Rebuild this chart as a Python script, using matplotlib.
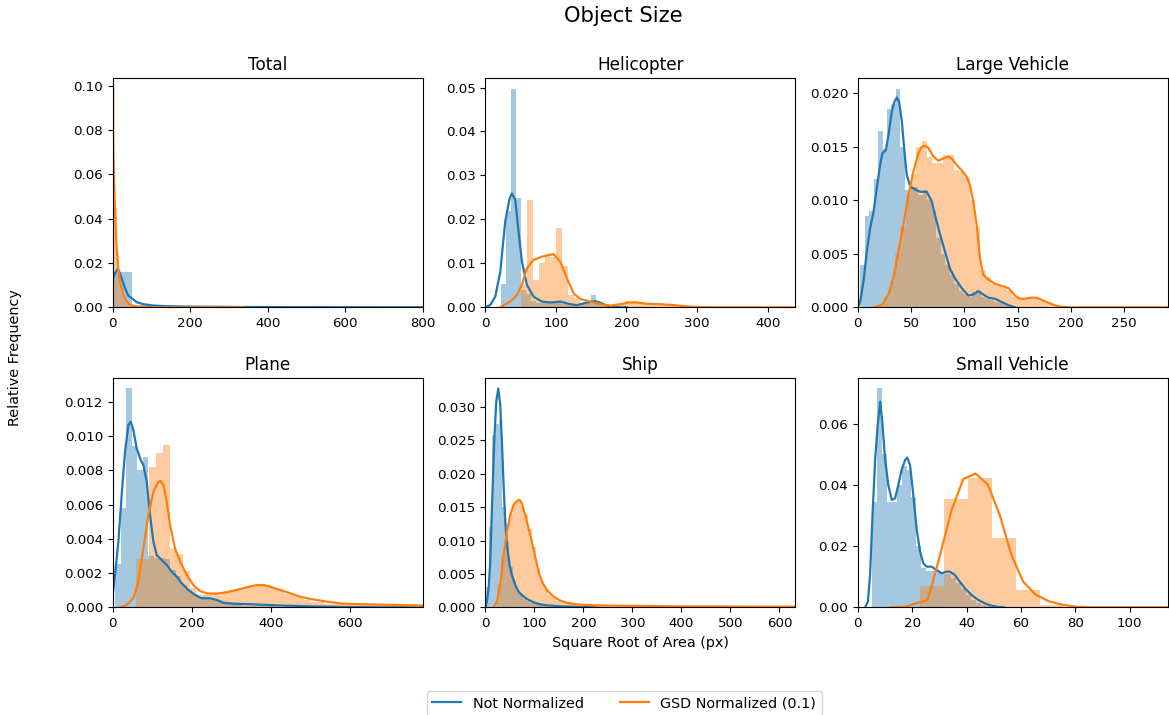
import numpy as np
import matplotlib.pyplot as plt

BLUE = '#1f77b4'
ORANGE = '#ff7f0e'

titles = ["Total", "Helicopter", "Large Vehicle", "Plane", "Ship", "Small Vehicle"]
series_labels = ["Not Normalized", "GSD Normalized (0.1)"]

# histograms: (first bin edge, bin width) and bar heights (density)
# kde: x and y of the smoothed curve
# --- Total
total_raw_bins = (0.5, 48.5)
total_raw_hist = [0.0161, 0.0012, 0.0004, 0.0002, 0.0001, 0.0001, 0.00006, 0.00004,
                  0.00003, 0.00002, 0.00002, 0.00001, 0.00001, 0.00001, 0.00001, 0.00001]
total_raw_kde_x = [0, 6, 12, 17, 23, 32, 40, 49, 62, 79, 105, 140, 208, 338, 510, 800]
total_raw_kde_y = [0.0123, 0.0153, 0.0171, 0.0161, 0.0131, 0.0086, 0.0053, 0.0041, 0.0023,
                   0.0014, 0.0008, 0.0005, 0.0003, 0.00015, 0.00005, 0.0]
total_gsd_bins = (0.0, 5.2)
total_gsd_hist = [0.0988, 0.045, 0.024, 0.012, 0.0065, 0.004, 0.0025, 0.0016, 0.0011, 0.0008,
                  0.0006, 0.0005, 0.0004, 0.0003, 0.0003, 0.0002, 0.0002, 0.0002, 0.0001, 0.0001]
total_gsd_kde_x = [0, 2.6, 5.2, 7.8, 10.3, 14.6, 19, 27.6, 36.2, 44.8, 62, 96.5, 338]
total_gsd_kde_y = [0.0755, 0.0627, 0.0477, 0.0356, 0.0266, 0.0176, 0.0116, 0.0056, 0.0026,
                   0.0011, 0.0003, 0.0, 0.0]

# --- Helicopter
heli_raw_bins = (22.2, 7.1)
heli_raw_hist = [0.0052, 0.022, 0.0497, 0.0248, 0.004, 0.003, 0.0015, 0.0010, 0.0010, 0.0010,
                 0.0010, 0.0013, 0.0008, 0.0005, 0.0005, 0.0008, 0.0010, 0.0013, 0.0027, 0.0008,
                 0.0003]
heli_raw_kde_x = [0, 7.1, 14.2, 21.3, 28.3, 34.5, 37.8, 42.5, 47.2, 51.9, 59, 68.5, 80.3, 92.1,
                  106.3, 120.4, 129.9, 144, 155.8, 165.3, 174.7, 191, 200]
heli_raw_kde_y = [0, 0.00053, 0.00243, 0.00812, 0.0195, 0.0248, 0.0259, 0.0244, 0.0172, 0.0104,
                  0.0051, 0.0024, 0.0013, 0.0011, 0.0013, 0.0007, 0.0005, 0.0011, 0.0014, 0.0009,
                  0.00015, 0, 0]
heli_gsd_bins = (51.0, 8.26)
heli_gsd_hist = [0.0051, 0.0244, 0.0062, 0.0100, 0.0119, 0.0115, 0.0180, 0.0093, 0.0028, 0.0020,
                 0.0009, 0.0009, 0.0007, 0.0005, 0.0005, 0.0005, 0.0005, 0.0009, 0.0014, 0.0014,
                 0.0010, 0.0007, 0.0007, 0.0007, 0.0007, 0.0006, 0.0004, 0.0003, 0.0002, 0.0002]
heli_gsd_kde_x = [21.3, 35.4, 44.9, 51.9, 59, 68.5, 80.3, 89.7, 96.8, 106.3, 115.7, 125.1, 134.6,
                  148.8, 163, 177.1, 191.3, 203.1, 214.9, 229, 247.9, 266.8, 285.7, 314, 440]
heli_gsd_kde_y = [0, 0.0013, 0.0028, 0.0051, 0.0089, 0.0108, 0.0115, 0.0119, 0.0121, 0.0104,
                  0.0066, 0.0032, 0.0019, 0.0013, 0.0007, 0.0004, 0.0007, 0.0011, 0.0011, 0.0008,
                  0.0007, 0.0005, 0.0002, 0, 0]

# --- Large Vehicle
lv_raw_bins = (2.2, 4.2)
lv_raw_hist = [0.0040, 0.0085, 0.0090, 0.0120, 0.0165, 0.0148, 0.0185, 0.0190, 0.0204, 0.0150,
               0.0110, 0.0112, 0.0112, 0.0105, 0.0110, 0.0100, 0.0090, 0.0065, 0.0050, 0.0040,
               0.0030, 0.0022, 0.0015, 0.0012, 0.0010, 0.0014, 0.0016, 0.0010, 0.0008, 0.0007,
               0.0005, 0.0004, 0.0002, 0.0001]
lv_raw_kde_x = [0, 2.2, 5.3, 8.4, 11.6, 14.7, 17.8, 20.9, 23.1, 26.3, 28.8, 31.9, 34.4, 36.6,
                38.8, 41.3, 43.8, 45.9, 49.1, 53.8, 58.4, 64.7, 69.4, 72.5, 77.2, 81.9, 86.6,
                91.3, 97.5, 103.8, 108.4, 113.1, 117.8, 122.5, 128.8, 135, 141.3, 147.5]
lv_raw_kde_y = [0, 0.00053, 0.0024, 0.0052, 0.0074, 0.0089, 0.0111, 0.0133, 0.0144, 0.0147,
                0.0161, 0.0183, 0.0192, 0.0196, 0.0192, 0.0174, 0.0145, 0.0124, 0.0113, 0.0110,
                0.0108, 0.0108, 0.0099, 0.0086, 0.0068, 0.0052, 0.0036, 0.0027, 0.0018, 0.0011,
                0.0012, 0.0015, 0.0012, 0.0009, 0.0008, 0.0005, 0.0002, 0]
lv_gsd_bins = (20.0, 5.0)
lv_gsd_hist = [0.0003, 0.0010, 0.0025, 0.0050, 0.0075, 0.0105, 0.0125, 0.0150, 0.0155, 0.0140,
               0.0135, 0.0135, 0.0142, 0.0142, 0.0128, 0.0126, 0.0122, 0.0100, 0.0075, 0.0035,
               0.0028, 0.0022, 0.0020, 0.0018, 0.0015, 0.0010, 0.0008, 0.0008, 0.0009, 0.0008,
               0.0006, 0.0004, 0.0002]
lv_gsd_kde_x = [14.7, 22.5, 28.8, 33.4, 38.1, 42.8, 47.5, 52.2, 56.9, 60, 63.1, 66.3, 70.9,
                75.6, 80.3, 85, 88.1, 92.8, 97.5, 102.2, 105.3, 108.4, 111.6, 114.7, 117.8,
                122.5, 128.8, 135, 141.3, 144.4, 147.5, 152.2, 156.9, 163.1, 167.8, 172.5,
                177.2, 181.9, 188.1, 197.5, 291]
lv_gsd_kde_y = [0, 0.0002, 0.0012, 0.0027, 0.0052, 0.0077, 0.0105, 0.0127, 0.0144, 0.0150,
                0.0151, 0.0149, 0.0141, 0.0137, 0.0139, 0.0141, 0.0139, 0.0133, 0.0128, 0.0122,
                0.0114, 0.0099, 0.0077, 0.0046, 0.0030, 0.0026, 0.0022, 0.0020, 0.0018, 0.0015,
                0.0011, 0.0008, 0.0008, 0.0009, 0.0009, 0.0007, 0.0005, 0.0003, 0.0001, 0, 0]

# --- Plane
plane_raw_bins = (5.9, 14.0)
plane_raw_hist = [0.0025, 0.0058, 0.0128, 0.0094, 0.0080, 0.0088, 0.0030, 0.0029, 0.0029,
                  0.0028, 0.0022, 0.0018, 0.0013, 0.0010, 0.0008, 0.0006, 0.0005, 0.0005,
                  0.0004, 0.0003, 0.0002, 0.0002, 0.00015, 0.0001, 0.0001, 0.0001, 0.00008,
                  0.00006, 0.00005, 0.00004, 0.00003, 0.00002, 0.00002, 0.00001, 0.00001]
plane_raw_kde_x = [0, 5.9, 14.4, 22.8, 31.3, 39.7, 45.6, 52.4, 60.8, 71, 77.7, 86.2, 94.6,
                   103.1, 111.5, 124.2, 136.9, 149.6, 162.2, 174.9, 191.8, 208.7, 225.6, 246.7,
                   263.6, 280.5, 305.9, 348.1, 390.4, 432.6, 500.2, 584.7, 669.2, 785]
plane_raw_kde_y = [0.00072, 0.00189, 0.00383, 0.00656, 0.00909, 0.01064, 0.01084, 0.01035,
                   0.00928, 0.0086, 0.00831, 0.00733, 0.00539, 0.00383, 0.00305, 0.00276,
                   0.00247, 0.00208, 0.00179, 0.0014, 0.00101, 0.00072, 0.00053, 0.00053,
                   0.00043, 0.00027, 0.00021, 0.00018, 0.00014, 0.0001, 0.00006, 0.00002, 0, 0]
plane_gsd_bins = (59.0, 17.0)
plane_gsd_hist = [0.0028, 0.0028, 0.0082, 0.0090, 0.0095, 0.0034, 0.0031, 0.0021, 0.0011,
                  0.0007, 0.0007, 0.0008, 0.0008, 0.0009, 0.0010, 0.0011, 0.0012, 0.0013,
                  0.0013, 0.0013, 0.0011, 0.0010, 0.0008, 0.0007, 0.0006, 0.0004, 0.0003,
                  0.0003, 0.0002, 0.0002, 0.00018, 0.00016, 0.00015, 0.00014, 0.00012,
                  0.00012, 0.0001, 0.0001, 0.0001, 0.0001, 0.0001, 0.0001, 0.0001]
plane_gsd_kde_x = [18.6, 35.5, 52.4, 65.1, 77.7, 90.4, 103.1, 115.8, 121.7, 128.4, 136.9, 145.3,
                   158, 170.7, 187.6, 204.5, 221.4, 238.3, 263.6, 289, 314.3, 339.7, 365, 382,
                   398.8, 424.2, 449.5, 474.9, 500.2, 542.5, 584.7, 627, 669.2, 711.5, 753.7,
                   785]
plane_gsd_kde_y = [0, 0.00014, 0.00053, 0.0015, 0.00344, 0.00539, 0.00675, 0.00733, 0.00737,
                   0.00714, 0.00617, 0.00481, 0.00344, 0.00267, 0.00189, 0.0013, 0.00095,
                   0.00082, 0.0008, 0.00088, 0.00101, 0.00117, 0.0013, 0.0013, 0.00121,
                   0.00101, 0.00082, 0.00062, 0.00049, 0.00033, 0.00021, 0.00018, 0.00016,
                   0.00014, 0.00012, 0.0001]

# --- Ship
ship_raw_bins = (0.0, 7.0)
ship_raw_hist = [0.0030, 0.0120, 0.0258, 0.0275, 0.0280, 0.0150, 0.0100, 0.0060, 0.0040,
                 0.0025, 0.0018, 0.0013, 0.0010, 0.0007, 0.0005, 0.0004, 0.0003, 0.0002,
                 0.0002, 0.0001, 0.0001, 0.0001, 0.00005]
ship_raw_kde_x = [0, 3.4, 6.8, 10.2, 13.6, 18.3, 22.4, 26.5, 30.6, 34, 37.4, 40.8, 44.2, 49.6,
                  54.3, 61.1, 67.9, 74.7, 84.9, 98.5, 112.1, 125.7, 152.9, 193.6, 227.6]
ship_raw_kde_y = [0, 0.00085, 0.00284, 0.00684, 0.01482, 0.0248, 0.03079, 0.03278, 0.03029,
                  0.0248, 0.01831, 0.01282, 0.00933, 0.00634, 0.00484, 0.00334, 0.00235,
                  0.00185, 0.00125, 0.00075, 0.00045, 0.0003, 0.00015, 0.00005, 0]
ship_gsd_bins = (24.0, 8.0)
ship_gsd_hist = [0.0035, 0.0075, 0.0125, 0.0140, 0.0158, 0.0162, 0.0150, 0.0140, 0.0118,
                 0.0090, 0.0060, 0.0040, 0.0028, 0.0019, 0.0014, 0.0010, 0.0008, 0.0006,
                 0.0005, 0.0004, 0.0003, 0.0003, 0.0003, 0.0002, 0.0002, 0.0002, 0.0002,
                 0.0002, 0.0002, 0.0002, 0.00015, 0.00015, 0.00015, 0.00015, 0.00015, 0.00015,
                 0.00015, 0.00015, 0.0001, 0.0001, 0.0001, 0.0001, 0.0001, 0.0001, 0.0001,
                 0.0001, 0.0001, 0.0001, 0.0001, 0.0001, 0.0001, 0.0001, 0.0001, 0.0001,
                 0.0001, 0.0001, 0.0001, 0.0001, 0.0001, 0.0001, 0.0001, 0.0001, 0.0001,
                 0.0001, 0.0001, 0.0001, 0.0001, 0.0001, 0.0001, 0.0001, 0.0001, 0.0001,
                 0.0001, 0.0001, 0.0001]
ship_gsd_kde_x = [17, 23.8, 30.6, 37.4, 44.2, 51, 57.7, 64.5, 70, 74.7, 81.5, 88.3, 95.1, 101.9,
                  108.7, 115.5, 125.7, 139.3, 152.9, 166.4, 180, 193.6, 220.8, 261.5, 329.5,
                  397.4, 465.4, 533.3, 632]
ship_gsd_kde_y = [0, 0.00085, 0.00334, 0.00783, 0.01133, 0.01382, 0.01532, 0.01592, 0.01607,
                  0.01557, 0.01382, 0.01183, 0.00983, 0.00758, 0.00534, 0.00384, 0.00259,
                  0.0016, 0.001, 0.0007, 0.0005, 0.0004, 0.0003, 0.00025, 0.0002, 0.00015,
                  0.00015, 0.0001, 0.0001]

# --- Small Vehicle
sv_raw_bins = (5.1, 1.83)
sv_raw_hist = [0.0345, 0.0715, 0.0500, 0.0345, 0.0345, 0.0400, 0.0460, 0.0450, 0.0360, 0.0200,
               0.0130, 0.0120, 0.0120, 0.0120, 0.0110, 0.0110, 0.0095, 0.0080, 0.0060, 0.0040,
               0.0025, 0.0015, 0.0008, 0.0004]
sv_raw_kde_x = [2.7, 3.7, 4.5, 5.4, 6.4, 7.3, 8.2, 9.0, 10.0, 11.2, 12.5, 13.7, 14.9, 16.1,
                17.4, 18.2, 19.2, 20.4, 21.6, 22.9, 24.1, 25.3, 27.1, 29.0, 30.8, 32.6, 33.9,
                35.7, 37.5, 39.4, 41.8, 44.3, 46.7, 49.1, 51.6, 54.0]
sv_raw_kde_y = [0, 0.00185, 0.01056, 0.03016, 0.04867, 0.05955, 0.06718, 0.06064, 0.04867,
                0.03996, 0.03506, 0.0356, 0.03996, 0.04486, 0.04812, 0.04888, 0.04649, 0.03669,
                0.0258, 0.01818, 0.01437, 0.01328, 0.01328, 0.01219, 0.0111, 0.01165, 0.01165,
                0.01056, 0.00838, 0.00621, 0.00403, 0.0024, 0.00131, 0.00054, 0.00011, 0]
sv_gsd_bins = (22.9, 8.8)
sv_gsd_hist = [0.0071, 0.0354, 0.0424, 0.0225, 0.0057, 0.0008]
sv_gsd_kde_x = [11.9, 17.4, 21.6, 25.7, 29.6, 34.5, 38.8, 43.3, 47.9, 52.2, 56.5, 60.8, 65.6,
                70.5, 75.4, 80.3, 84.6, 114]
sv_gsd_kde_y = [0, 0.0002, 0.0013, 0.0024, 0.0149, 0.0318, 0.0419, 0.0437, 0.04, 0.0302,
                0.0171, 0.0084, 0.004, 0.0019, 0.0008, 0.0002, 0, 0]

panels = [
    (total_raw_bins, total_raw_hist, total_raw_kde_x, total_raw_kde_y,
     total_gsd_bins, total_gsd_hist, total_gsd_kde_x, total_gsd_kde_y),
    (heli_raw_bins, heli_raw_hist, heli_raw_kde_x, heli_raw_kde_y,
     heli_gsd_bins, heli_gsd_hist, heli_gsd_kde_x, heli_gsd_kde_y),
    (lv_raw_bins, lv_raw_hist, lv_raw_kde_x, lv_raw_kde_y,
     lv_gsd_bins, lv_gsd_hist, lv_gsd_kde_x, lv_gsd_kde_y),
    (plane_raw_bins, plane_raw_hist, plane_raw_kde_x, plane_raw_kde_y,
     plane_gsd_bins, plane_gsd_hist, plane_gsd_kde_x, plane_gsd_kde_y),
    (ship_raw_bins, ship_raw_hist, ship_raw_kde_x, ship_raw_kde_y,
     ship_gsd_bins, ship_gsd_hist, ship_gsd_kde_x, ship_gsd_kde_y),
    (sv_raw_bins, sv_raw_hist, sv_raw_kde_x, sv_raw_kde_y,
     sv_gsd_bins, sv_gsd_hist, sv_gsd_kde_x, sv_gsd_kde_y),
]

x_limits = [800, 439, 291, 785, 632, 114]
y_limits = [0.1033, 0.0521, 0.0214, 0.01337, 0.0343, 0.0748]
x_steps = [200, 100, 50, 200, 100, 20]
y_steps = [0.02, 0.01, 0.005, 0.002, 0.005, 0.02]


def draw_dist(ax, bins, heights, kde_x, kde_y, color, label):
    start, width = bins
    edges = start + width * np.arange(len(heights))
    ax.bar(edges, heights, width=width, align='edge', color=color, alpha=0.4, linewidth=0)
    ax.plot(kde_x, kde_y, color=color, lw=1.6, label=label)


plt.rcParams['font.family'] = 'DejaVu Sans'
fig, axes = plt.subplots(2, 3, figsize=(11.69, 7.15), dpi=100)
plt.subplots_adjust(left=0.0964, right=0.9989, bottom=0.1506, top=0.8905,
                    wspace=0.2023, hspace=0.31)

for i, ax in enumerate(axes.flat):
    d = panels[i]
    draw_dist(ax, d[0], d[1], d[2], d[3], BLUE, series_labels[0])
    draw_dist(ax, d[4], d[5], d[6], d[7], ORANGE, series_labels[1])
    ax.set_xlim(0, x_limits[i])
    ax.set_ylim(0, y_limits[i])
    ax.set_xticks(np.arange(0, x_limits[i] + 1, x_steps[i]))
    ax.set_yticks(np.arange(0, y_limits[i], y_steps[i]))
    ax.tick_params(labelsize=9.6)
    ax.set_title(titles[i], fontsize=12.2)

axes[1, 1].set_xlabel("Square Root of Area (px)", fontsize=10.4)
fig.text(0.013, 0.50, "Relative Frequency", rotation=90, va='center', ha='center',
         fontsize=10.4)
fig.suptitle("Object Size", x=0.533, y=0.992, fontsize=15.2)

handles, labels = axes[0, 0].get_legend_handles_labels()
fig.legend(handles, labels, loc='upper center', bbox_to_anchor=(0.534, 0.044), ncol=2,
           fontsize=10.4, columnspacing=2.5)

plt.savefig("out.png")
